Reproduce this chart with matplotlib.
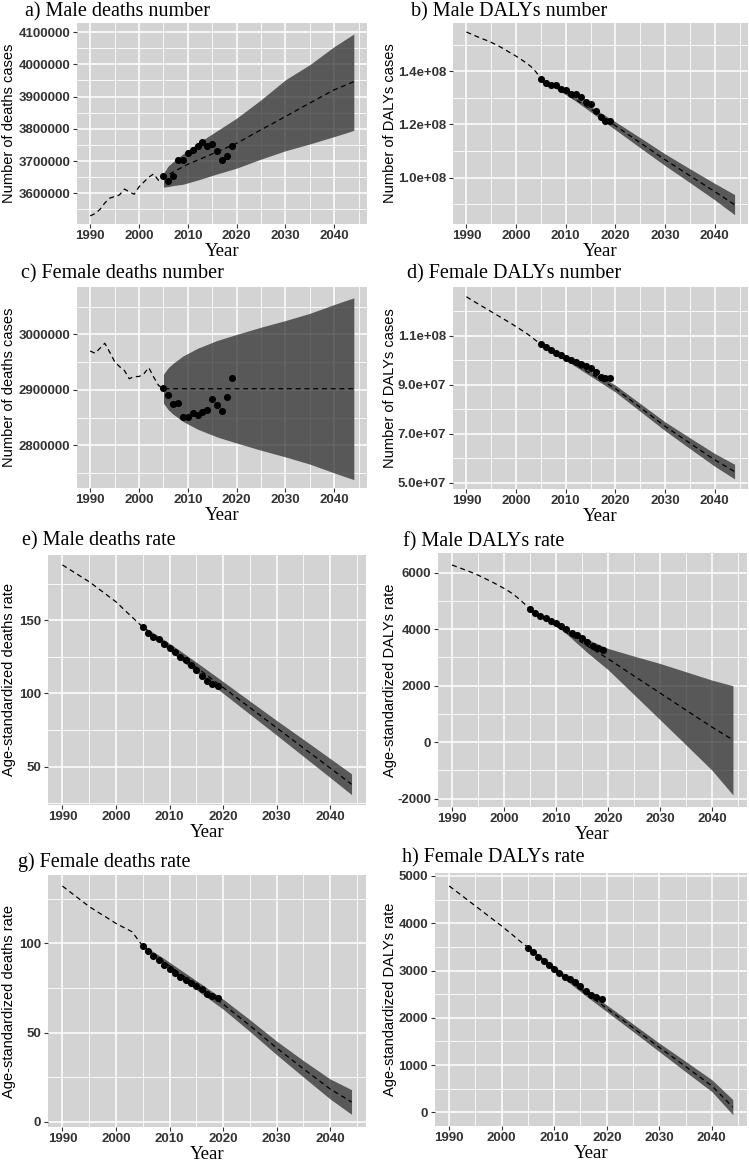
import matplotlib
matplotlib.use("Agg")
import matplotlib.pyplot as plt
from matplotlib.ticker import FixedLocator, FuncFormatter, MultipleLocator

W, H = 749, 1164

hist_years = list(range(1990, 2005))
point_years = list(range(2005, 2020))
pred_years = [2005, 2010, 2015, 2020, 2025, 2030, 2035, 2040, 2044]
band_years = [2005, 2006, 2007, 2009, 2012, 2016, 2020, 2025, 2030, 2035, 2040, 2044]

# a) Male deaths number
a_hist = [3530000, 3537000, 3550000, 3570000, 3585000, 3590000, 3595000, 3613000,
          3605000, 3597000, 3620000, 3635000, 3650000, 3660000, 3640000]
a_pts = [3654000, 3638000, 3654000, 3702000, 3702000, 3726000, 3735000, 3748000,
         3760000, 3748000, 3753000, 3732000, 3703000, 3717000, 3748000]
a_pred = [3650000, 3690000, 3722000, 3755000, 3797000, 3838000, 3880000, 3921000, 3946000]
a_up = [3662000, 3685000, 3698000, 3722000, 3755000, 3794000, 3833000, 3890000,
        3952000, 3999000, 4055000, 4094000]
a_lo = [3619000, 3621000, 3624000, 3628000, 3641000, 3660000, 3678000, 3706000,
        3732000, 3753000, 3776000, 3795000]

# b) Male DALYs number
b_hist = [1.548e8, 1.540e8, 1.532e8, 1.524e8, 1.517e8, 1.509e8, 1.500e8, 1.490e8,
          1.479e8, 1.468e8, 1.457e8, 1.445e8, 1.432e8, 1.418e8, 1.398e8]
b_pts = [1.372e8, 1.357e8, 1.348e8, 1.349e8, 1.333e8, 1.331e8, 1.316e8, 1.314e8,
         1.302e8, 1.283e8, 1.277e8, 1.252e8, 1.228e8, 1.214e8, 1.214e8]
b_pred = [1.372e8, 1.318e8, 1.258e8, 1.195e8, 1.131e8, 1.067e8, 1.007e8, 0.947e8, 0.898e8]
b_up = [1.372e8, 1.363e8, 1.353e8, 1.334e8, 1.304e8, 1.256e8, 1.210e8, 1.150e8,
        1.089e8, 1.033e8, 0.978e8, 0.936e8]
b_lo = [1.372e8, 1.359e8, 1.347e8, 1.324e8, 1.288e8, 1.234e8, 1.180e8, 1.112e8,
        1.045e8, 0.981e8, 0.916e8, 0.860e8]

# c) Female deaths number
c_hist = [2970000, 2966000, 2975000, 2984000, 2968000, 2951000, 2942000, 2935000,
          2920000, 2924000, 2924000, 2929000, 2940000, 2923000, 2908000]
c_pts = [2903000, 2890000, 2875000, 2876000, 2851000, 2851000, 2858000, 2854000,
         2860000, 2864000, 2884000, 2873000, 2861000, 2887000, 2922000]
c_pred = [2902000, 2902000, 2902000, 2902000, 2902000, 2902000, 2902000, 2902000, 2902000]
c_up = [2928000, 2940000, 2948000, 2961000, 2975000, 2989000, 3000000, 3013000,
        3025000, 3038000, 3054000, 3066000]
c_lo = [2876000, 2864000, 2856000, 2843000, 2829000, 2815000, 2804000, 2791000,
        2779000, 2766000, 2750000, 2738000]

# d) Female DALYs number
d_hist = [1.259e8, 1.246e8, 1.234e8, 1.222e8, 1.210e8, 1.198e8, 1.186e8, 1.174e8,
          1.162e8, 1.150e8, 1.137e8, 1.124e8, 1.111e8, 1.096e8, 1.080e8]
d_pts = [1.066e8, 1.055e8, 1.040e8, 1.031e8, 1.020e8, 1.009e8, 1.001e8, 0.994e8,
         0.984e8, 0.978e8, 0.969e8, 0.953e8, 0.931e8, 0.929e8, 0.927e8]
d_pred = [1.066e8, 1.006e8, 0.945e8, 0.884e8, 0.807e8, 0.730e8, 0.661e8, 0.593e8, 0.545e8]
d_up = [1.066e8, 1.056e8, 1.045e8, 1.023e8, 0.990e8, 0.944e8, 0.898e8, 0.823e8,
        0.748e8, 0.683e8, 0.619e8, 0.575e8]
d_lo = [1.066e8, 1.052e8, 1.039e8, 1.013e8, 0.974e8, 0.922e8, 0.870e8, 0.791e8,
        0.712e8, 0.639e8, 0.567e8, 0.515e8]

# e) Male deaths rate
e_hist = [187.8, 185.5, 183.2, 180.9, 178.6, 176.3, 173.6, 170.8, 168.1, 165.3,
          162.6, 159.1, 155.6, 152.2, 148.7]
e_pts = [145.4, 141.5, 138.6, 137.4, 134.0, 131.0, 128.3, 124.8, 122.5, 119.1,
         116.1, 112.1, 108.8, 106.4, 105.0]
e_pred = [145.4, 131.6, 117.8, 104.1, 90.3, 76.5, 62.7, 49.0, 37.9]
e_up = [145.4, 143.6, 141.4, 136.6, 129.1, 118.7, 108.1, 94.8, 81.5, 68.6, 55.5, 45.0]
e_lo = [145.4, 141.6, 138.4, 132.2, 123.1, 111.5, 100.1, 85.8, 71.5, 57.0, 42.5, 30.8]

# f) Male DALYs rate
f_hist = [6268, 6200, 6130, 6060, 5990, 5910, 5820, 5730, 5640, 5540,
          5440, 5330, 5200, 5050, 4880]
f_pts = [4697, 4555, 4461, 4378, 4295, 4224, 4106, 3988, 3870, 3787,
         3669, 3551, 3398, 3315, 3256]
f_pred = [4697, 4110, 3520, 2950, 2340, 1737, 1130, 530, 80]
f_up = [4697, 4610, 4520, 4340, 4000, 3640, 3315, 3043, 2783, 2488, 2193, 1996]
f_lo = [4697, 4600, 4490, 4260, 3830, 3170, 2563, 1680, 791, -100, -1000, -1867]

# g) Female deaths rate
g_hist = [132.1, 129.8, 127.5, 125.2, 122.9, 120.6, 118.7, 116.8, 115.0, 113.1,
          111.2, 109.6, 108.1, 106.5, 102.5]
g_pts = [98.5, 95.7, 92.9, 90.7, 87.9, 85.8, 83.6, 81.3, 79.4, 77.9,
         76.1, 74.2, 71.6, 70.5, 69.5]
g_pred = [98.5, 87.4, 76.6, 66.0, 54.0, 41.5, 29.8, 18.5, 11.2]
g_up = [98.5, 97.1, 95.3, 91.5, 85.3, 77.1, 68.8, 57.3, 45.3, 34.4, 24.1, 18.1]
g_lo = [98.5, 95.5, 92.9, 87.9, 80.7, 71.9, 63.2, 50.7, 37.7, 25.2, 12.9, 4.3]

# h) Female DALYs rate
h_hist = [4788, 4705, 4620, 4535, 4450, 4365, 4280, 4195, 4110, 4025,
          3940, 3850, 3760, 3665, 3575]
h_pts = [3484, 3399, 3279, 3202, 3117, 3032, 2941, 2870, 2814, 2750,
         2673, 2574, 2482, 2433, 2398]
h_pred = [3490, 3040, 2610, 2200, 1790, 1375, 970, 560, 110]
h_up = [3490, 3420, 3340, 3175, 2925, 2595, 2270, 1870, 1465, 1080, 690, 270]
h_lo = [3490, 3380, 3280, 3085, 2815, 2465, 2130, 1710, 1285, 860, 440, -50]

a_ticks = [3600000, 3700000, 3800000, 3900000, 4000000, 4100000]
b_ticks = [1.0e8, 1.2e8, 1.4e8]
c_ticks = [2800000, 2900000, 3000000]
d_ticks = [5.0e7, 7.0e7, 9.0e7, 1.1e8]
e_ticks = [50, 100, 150]
f_ticks = [-2000, 0, 2000, 4000, 6000]
g_ticks = [0, 50, 100]
h_ticks = [0, 1000, 2000, 3000, 4000, 5000]

panels = [
    # title, ylabel, series..., ylim, yticks, fmt, box (l, t, r, b px), title xy px, ylabel x px
    ("a) Male deaths number", "Number of deaths cases", a_hist, a_pts, a_pred, a_up, a_lo,
     (3504800, 4128000), a_ticks, "int", (77, 23, 367, 224), (25, 12), 9),
    ("b) Male DALYs number", "Number of DALYs cases", b_hist, b_pts, b_pred, b_up, b_lo,
     (0.825e8, 1.582e8), b_ticks, "sci", (453, 23, 748, 224), (411, 12), 390),
    ("c) Female deaths number", "Number of deaths cases", c_hist, c_pts, c_pred, c_up, c_lo,
     (2722900, 3085500), c_ticks, "int", (77, 287, 367, 488), (21, 274), 9),
    ("d) Female DALYs number", "Number of DALYs cases", d_hist, d_pts, d_pred, d_up, d_lo,
     (4.74e7, 1.2987e8), d_ticks, "sci", (453, 287, 748, 489), (407, 274), 390),
    ("e) Male deaths rate", "Age-standardized deaths rate", e_hist, e_pts, e_pred, e_up, e_lo,
     (23.7, 194.6), e_ticks, "int", (48, 555, 366, 805), (22, 541), 9),
    ("f) Male DALYs rate", "Age-standardized DALYs rate", f_hist, f_pts, f_pred, f_up, f_lo,
     (-2295, 6693), f_ticks, "int", (438, 553, 747, 807), (403, 542), 390),
    ("g) Female deaths rate", "Age-standardized deaths rate", g_hist, g_pts, g_pred, g_up, g_lo,
     (-2.8, 138.3), g_ticks, "int", (48, 875, 366, 1127), (18, 862), 9),
    ("h) Female DALYs rate", "Age-standardized DALYs rate", h_hist, h_pts, h_pred, h_up, h_lo,
     (-289, 5063), h_ticks, "int", (435, 873, 747, 1126), (402, 858), 390),
]

serif = "Liberation Serif"
sans = "Liberation Sans"
bg = "#d3d3d3"
tickcol = "#333333"


def sci_fmt(v, pos):
    mant, ex = ("%.1e" % v).split("e")
    return "%se%s%02d" % (mant, "+" if int(ex) >= 0 else "-", abs(int(ex)))


fig = plt.figure(figsize=(W / 100, H / 100), dpi=100, facecolor="white")

for (title, ylab, hist, pts, pred, up, lo, ylim, yticks, fmt, box, txy, ylx) in panels:
    l, t, r, b = box
    ax = fig.add_axes([l / W, 1 - b / H, (r - l) / W, (b - t) / H])
    ax.set_facecolor(bg)
    for sp in ax.spines.values():
        sp.set_visible(False)

    ax.set_xlim(1987.3, 2046.7)
    ax.set_ylim(*ylim)
    ax.xaxis.set_major_locator(MultipleLocator(10))
    ax.xaxis.set_minor_locator(MultipleLocator(5))
    step = yticks[1] - yticks[0]
    minors = [yticks[0] - step / 2] + [v + step / 2 for v in yticks]
    ax.yaxis.set_major_locator(FixedLocator(yticks))
    ax.yaxis.set_minor_locator(FixedLocator(minors))
    ax.grid(which="major", color="white", lw=1.1)
    ax.grid(which="minor", color="white", lw=0.6)
    ax.set_axisbelow(True)
    ax.tick_params(which="major", length=3, width=0.8, color=tickcol, pad=2)
    ax.tick_params(axis="x", which="major", pad=1.5)
    ax.tick_params(which="minor", length=0)
    if fmt == "sci":
        ax.yaxis.set_major_formatter(FuncFormatter(sci_fmt))
    else:
        ax.yaxis.set_major_formatter(FuncFormatter(lambda v, p: "%d" % round(v)))
    for lab in ax.get_xticklabels() + ax.get_yticklabels():
        lab.set_fontfamily(sans)
        lab.set_fontsize(9.5)
        lab.set_fontweight("bold")
        lab.set_color(tickcol)

    ax.fill_between(band_years, lo, up, color="#2a2a2a", alpha=0.73, lw=0, zorder=2)
    ax.plot(hist_years + pred_years, hist + pred, color="black", lw=0.9,
            dashes=(4, 3), zorder=3)
    ax.scatter(point_years, pts, s=26, color="black", zorder=4, lw=0)

    fig.text(txy[0] / W, 1 - txy[1] / H, title, fontfamily=serif, fontsize=14.5,
             ha="left", va="center")
    fig.text(((l + r) / 2) / W, 1 - (b + 32) / H, "Year", fontfamily=serif,
             fontsize=13.5, ha="center", va="baseline")
    fig.text(ylx / W, 1 - ((t + b) / 2) / H, ylab, fontfamily=sans, fontsize=10.5,
             rotation=90, ha="center", va="center")

fig.savefig("out.png", dpi=100)
